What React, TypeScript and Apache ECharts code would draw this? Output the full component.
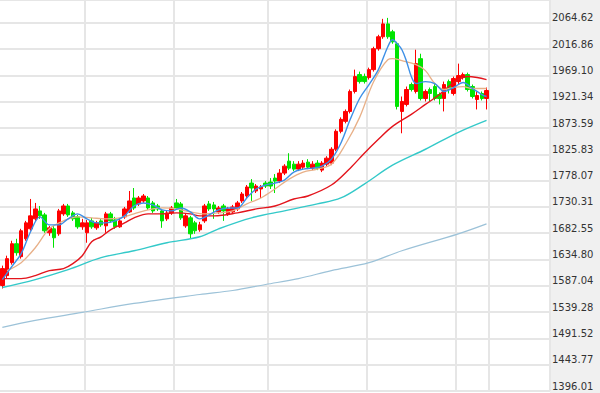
import React, { useEffect, useRef } from "react";
import * as echarts from "echarts";

// ---- Data ----
const opens = [
  1587.6, 1605.6, 1629.1, 1663.5, 1640.0, 1672.5, 1690.6, 1708.7, 1723.1, 1715.9,
  1683.4, 1690.6, 1681.5, 1717.7, 1732.1, 1719.5, 1712.3, 1694.2, 1683.4, 1705.0,
  1692.4, 1705.0, 1696.0, 1717.7, 1706.8, 1694.2, 1712.3, 1721.3, 1746.6, 1735.8,
  1741.2, 1746.6, 1737.6, 1732.1, 1723.1, 1708.7, 1719.5, 1737.6, 1735.8, 1696.0,
  1710.5, 1701.4, 1688.8, 1705.0, 1735.8, 1734.0, 1721.3, 1732.1, 1717.7, 1721.3,
  1726.7, 1741.2, 1750.2, 1773.7, 1759.3, 1762.9, 1773.7, 1775.5, 1782.7, 1777.3,
  1791.8, 1813.5, 1808.0, 1799.0, 1802.6, 1811.7, 1800.8, 1809.9, 1797.2, 1808.0,
  1809.9, 1835.1, 1867.7, 1885.8, 1903.8, 1940.0, 1970.7, 1967.1, 1965.3, 1979.7,
  2017.7, 2039.4, 2062.8, 2048.4, 2026.7, 1903.8, 1916.5, 1952.6, 1940.0, 1999.6,
  1927.3, 1943.6, 1949.0, 1934.5, 1927.3, 1958.0, 1936.4, 1958.0, 1965.3, 1970.7,
  1949.0, 1925.5, 1936.4, 1927.3,
];
const closes = [
  1618.3, 1636.4, 1663.5, 1647.2, 1687.0, 1701.4, 1714.1, 1726.7, 1714.1, 1687.0,
  1692.4, 1674.3, 1723.1, 1732.1, 1715.9, 1708.7, 1694.2, 1701.4, 1701.4, 1694.2,
  1701.4, 1697.8, 1717.7, 1705.0, 1694.2, 1705.0, 1726.7, 1741.2, 1728.5, 1746.6,
  1750.2, 1728.5, 1723.1, 1726.7, 1705.0, 1719.5, 1728.5, 1728.5, 1710.5, 1714.1,
  1681.5, 1687.0, 1697.8, 1732.1, 1726.7, 1726.7, 1728.5, 1723.1, 1726.7, 1730.3,
  1737.6, 1753.8, 1766.5, 1764.7, 1768.3, 1766.5, 1768.3, 1768.3, 1777.3, 1791.8,
  1804.4, 1800.8, 1799.0, 1808.0, 1809.9, 1802.6, 1808.0, 1800.8, 1809.9, 1818.9,
  1835.1, 1867.7, 1889.4, 1903.8, 1940.0, 1967.1, 1958.0, 1958.0, 1979.7, 2017.7,
  2039.4, 2062.8, 2039.4, 2030.3, 1912.9, 1921.9, 1943.6, 1943.6, 1990.6, 1927.3,
  1940.0, 1936.4, 1927.3, 1927.3, 1952.6, 1943.6, 1963.5, 1968.9, 1970.7, 1943.6,
  1930.9, 1932.7, 1927.3, 1941.8,
];
const lows = [
  1582.2, 1600.2, 1625.5, 1641.8, 1636.4, 1668.9, 1687.0, 1705.0, 1708.7, 1683.4,
  1677.9, 1656.2, 1677.9, 1714.1, 1712.3, 1705.0, 1690.6, 1688.8, 1665.3, 1690.6,
  1688.8, 1694.2, 1683.4, 1701.4, 1690.6, 1692.4, 1708.7, 1719.5, 1724.9, 1732.1,
  1737.6, 1724.9, 1719.5, 1723.1, 1692.4, 1705.0, 1715.9, 1724.9, 1706.8, 1692.4,
  1672.5, 1681.5, 1685.2, 1701.4, 1723.1, 1708.7, 1717.7, 1705.0, 1714.1, 1719.5,
  1723.1, 1737.6, 1746.6, 1741.2, 1755.6, 1746.6, 1764.7, 1762.9, 1755.6, 1773.7,
  1788.2, 1797.2, 1795.4, 1795.4, 1799.0, 1799.0, 1797.2, 1797.2, 1793.6, 1804.4,
  1806.2, 1831.5, 1864.1, 1882.1, 1900.2, 1936.4, 1954.4, 1954.4, 1961.6, 1976.1,
  2014.1, 2035.7, 2035.7, 2026.7, 1907.4, 1864.1, 1912.9, 1940.0, 1936.4, 1923.7,
  1921.9, 1921.9, 1923.7, 1916.5, 1903.8, 1936.4, 1932.7, 1952.6, 1961.6, 1940.0,
  1927.3, 1907.4, 1923.7, 1907.4,
];
const highs = [
  1623.7, 1641.8, 1668.9, 1672.5, 1690.6, 1705.0, 1744.8, 1737.6, 1732.1, 1719.5,
  1696.0, 1696.0, 1726.7, 1735.8, 1735.8, 1723.1, 1715.9, 1708.7, 1706.8, 1710.5,
  1705.0, 1708.7, 1721.3, 1721.3, 1712.3, 1710.5, 1730.3, 1759.3, 1764.7, 1750.2,
  1753.8, 1750.2, 1741.2, 1735.8, 1726.7, 1723.1, 1732.1, 1744.8, 1739.4, 1717.7,
  1714.1, 1705.0, 1703.2, 1735.8, 1741.2, 1739.4, 1732.1, 1735.8, 1730.3, 1734.0,
  1741.2, 1757.4, 1770.1, 1780.9, 1771.9, 1770.1, 1777.3, 1782.7, 1790.0, 1799.0,
  1808.0, 1827.9, 1813.5, 1813.5, 1815.3, 1817.1, 1813.5, 1815.3, 1813.5, 1822.5,
  1838.8, 1871.3, 1893.0, 1907.4, 1943.6, 1979.7, 1976.1, 1972.5, 1983.3, 2021.3,
  2043.0, 2071.9, 2073.7, 2052.0, 2030.3, 1930.9, 1949.0, 1956.2, 2015.9, 2008.6,
  1943.6, 1947.2, 1954.4, 1938.2, 1958.0, 1961.6, 1967.1, 1990.6, 1974.3, 1974.3,
  1952.6, 1940.0, 1940.0, 1947.2,
];

// Moving-average lines, read at sampled candle indices
const ma5Index = [0, 2, 4, 6, 8, 10, 12, 14, 16, 18, 20, 22, 24, 26, 28, 30, 32, 34, 36, 38, 40, 42, 44, 46, 48, 50, 52, 54, 56, 58, 60, 62, 64, 66, 68, 70, 72, 74, 76, 78, 80, 82, 83, 84, 85, 86, 87, 88, 90, 92, 94, 96, 98, 100, 102, 103];
const ma5Values = [1598.4, 1621.9, 1645.4, 1685.2, 1712.3, 1697.8, 1697.8, 1708.7, 1717.7, 1708.7, 1701.4, 1701.4, 1705.0, 1714.1, 1732.1, 1737.6, 1734.0, 1724.9, 1723.1, 1728.5, 1721.3, 1708.7, 1715.9, 1724.9, 1728.5, 1728.5, 1746.6, 1762.9, 1770.1, 1773.7, 1779.1, 1793.6, 1799.0, 1800.8, 1804.4, 1817.1, 1846.0, 1889.4, 1927.3, 1952.6, 1979.7, 2021.3, 2033.9, 2026.7, 2015.9, 1994.2, 1967.1, 1954.4, 1958.0, 1954.4, 1940.0, 1947.2, 1956.2, 1945.4, 1934.5, 1930.9];

const ma10Index = [1, 4, 7, 10, 13, 16, 19, 22, 25, 28, 31, 34, 37, 40, 43, 46, 49, 52, 55, 58, 61, 64, 67, 70, 73, 76, 79, 82, 83, 85, 88, 90, 92, 94, 96, 98, 100, 103];
const ma10Values = [1614.7, 1629.1, 1656.2, 1690.6, 1705.0, 1712.3, 1710.5, 1708.7, 1710.5, 1717.7, 1724.9, 1728.5, 1726.7, 1721.3, 1717.7, 1719.5, 1723.1, 1735.8, 1746.6, 1762.9, 1780.9, 1793.6, 1799.0, 1808.0, 1844.2, 1893.0, 1958.0, 1997.8, 1999.6, 1996.0, 1988.8, 1977.9, 1954.4, 1943.6, 1947.2, 1949.0, 1945.4, 1945.4];

const ma20Index = [0, 4, 7, 10, 13, 15, 17, 19, 21, 23, 26, 28, 31, 34, 37, 40, 42, 45, 50, 54, 58, 62, 65, 70, 74, 77, 80, 83, 87, 90, 93, 96, 99, 101, 103];
const ma20Values = [1600.2, 1600.2, 1605.6, 1614.7, 1618.3, 1627.3, 1641.8, 1667.1, 1676.1, 1688.8, 1701.4, 1710.5, 1717.7, 1717.7, 1719.5, 1717.7, 1714.1, 1714.1, 1719.5, 1726.7, 1732.1, 1744.8, 1750.2, 1770.1, 1800.8, 1827.9, 1853.2, 1876.7, 1898.4, 1916.5, 1934.5, 1956.2, 1967.1, 1965.3, 1961.6];

const ma60Index = [0, 7, 14, 21, 28, 35, 42, 46, 53, 60, 67, 72, 77, 83, 90, 97, 103];
const ma60Values = [1584.0, 1598.4, 1616.5, 1638.2, 1650.8, 1665.3, 1676.1, 1690.6, 1710.5, 1723.1, 1735.8, 1746.6, 1771.9, 1806.2, 1835.1, 1865.9, 1887.6];

const ma250Index = [0, 7, 17, 28, 42, 49, 56, 63, 70, 78, 85, 97, 103];
const ma250Values = [1511.7, 1524.3, 1538.8, 1555.1, 1571.3, 1578.5, 1589.4, 1600.2, 1614.7, 1629.1, 1650.8, 1681.5, 1699.6];

const yTickLabels = [
  "1396.01", "1443.77", "1491.52", "1539.28", "1587.04", "1634.80", "1682.55", "1730.31",
  "1778.07", "1825.83", "1873.59", "1921.34", "1969.10", "2016.86", "2064.62",
];
const Y_MIN = 1396.01;
const Y_STEP = (2064.62 - 1396.01) / 14;
const Y_MAX = 2106.18;

const TOTAL_SLOTS = 117; // candles + empty space before price panel
const monthLineIndex = [18, 37, 57, 78, 97, 104];

const categories = Array.from({ length: TOTAL_SLOTS }, (_, i) => String(i + 1));

export default function App() {
  const ref = useRef<HTMLDivElement>(null);

  useEffect(() => {
    if (!ref.current) return;
    const chart = echarts.init(ref.current, undefined, { renderer: "svg" });

    const candleData = opens.map((o, i) => [o, closes[i], lows[i], highs[i]]);
    const ma = (idx: number[], vals: number[], color: string, width = 1.3) => ({
      type: "line",
      data: idx.map((x, k) => [x, vals[k]]),
      smooth: 0.35,
      symbol: "none",
      silent: true,
      lineStyle: { color, width },
      z: 3,
    });

    const monthSet = new Set(monthLineIndex);

    chart.setOption({
      animation: false,
      backgroundColor: "#ffffff",
      grid: { left: 0, right: 50, top: -2, bottom: 2, containLabel: false },
      graphic: {
        elements: [
          {
            type: "rect",
            z: -10,
            shape: { x: 550, y: 0, width: 50, height: 393 },
            style: { fill: "#f0f0f0" },
            silent: true,
          },
        ],
      },
      xAxis: {
        type: "category",
        data: categories,
        boundaryGap: true,
        axisLine: { show: false },
        axisTick: { show: false },
        axisLabel: { show: false },
        splitLine: {
          show: true,
          interval: (index: number) => monthSet.has(index),
          lineStyle: { color: "#e6e6e6", width: 2 },
        },
      },
      yAxis: {
        type: "value",
        position: "right",
        min: Y_MIN,
        max: Y_MAX,
        interval: Y_STEP,
        axisLine: { show: false },
        axisTick: { show: false },
        splitLine: { show: true, lineStyle: { color: "#e6e6e6", width: 2 } },
        axisLabel: {
          margin: 2,
          showMaxLabel: false,
          verticalAlign: "bottom",
          color: "#333333",
          fontFamily: "DejaVu Sans",
          fontSize: 10,
          formatter: (v: number) => {
            const k = Math.round((v - Y_MIN) / Y_STEP);
            return yTickLabels[k] ?? "";
          },
        },
      },
      series: [
        {
          type: "candlestick",
          data: candleData,
          barWidth: 4,
          silent: true,
          itemStyle: {
            color: "#ff0000",
            color0: "#00e400",
            borderColor: "#ff0000",
            borderColor0: "#00e400",
            borderWidth: 1,
          },
          z: 2,
        },
        ma(ma250Index, ma250Values, "#9cc2d8", 1.2),
        ma(ma60Index, ma60Values, "#33c9c9", 1.4),
        ma(ma20Index, ma20Values, "#e3141c", 1.4),
        ma(ma10Index, ma10Values, "#e8b088", 1.3),
        ma(ma5Index, ma5Values, "#3d8fe6", 1.4),
      ],
    });

    return () => chart.dispose();
  }, []);

  return (
    <div
      ref={ref}
      style={{ position: "absolute", left: 0, top: 0, width: 600, height: 393 }}
    />
  );
}
